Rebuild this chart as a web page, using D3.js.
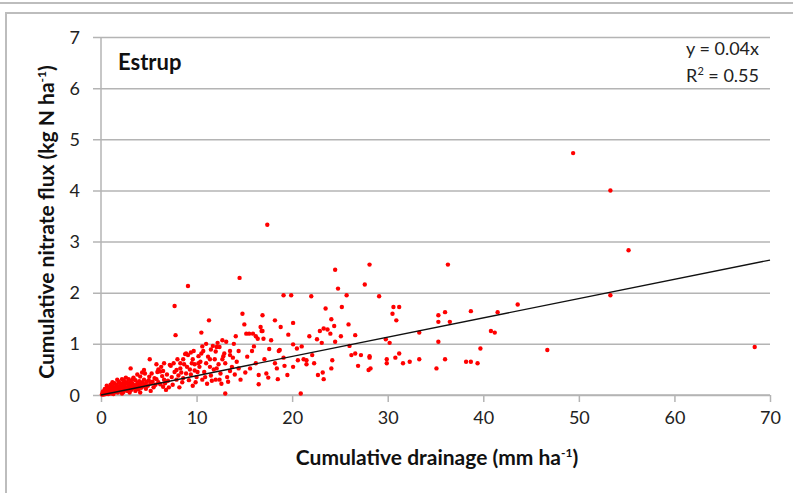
<!DOCTYPE html>
<html>
<head>
<meta charset="utf-8">
<script src="https://cdn.jsdelivr.net/npm/d3@7"></script>
<style>
  html,body{margin:0;padding:0;background:#fff;}
  svg{display:block;}
  text{font-family:Lato, "Open Sans", sans-serif;}
</style>
</head>
<body>
<svg id="chart" width="793" height="493"></svg>
<script>
// ---- data ----
const drainage = [
0.1,0.15,0.2,0.25,0.3,0.3,0.35,0.4,0.45,0.5,0.5,0.55,0.6,0.6,0.65,0.7,0.75,0.8,0.8,0.85,0.9,0.95,1.0,1.0,1.05,1.1,1.15,1.2,1.25,1.3,1.35,1.4,1.45,1.5,1.5,1.6,1.65,1.7,1.75,1.8,1.85,1.9,1.95,2.0,2.0,2.1,2.15,2.2,2.25,2.3,2.35,2.4,2.5,2.5,2.6,2.6,2.7,2.75,2.8,2.85,2.9,2.95,3.0,3.1,3.1,3.15,3.2,3.3,3.4,3.45,3.5,3.6,3.6,3.7,3.8,3.85,3.9,4.0,4.1,4.15,4.2,4.3,4.35,4.4,4.5,4.5,4.6,4.65,4.7,4.8,4.9,5.0,5.05,5.1,5.2,5.3,5.4,5.5,5.6,5.7,5.8,5.8,5.9,6.0,6.2,6.2,6.3,6.4,6.5,6.5,6.6,6.7,6.9,7.0,7.2,7.3,7.4,7.5,7.7,7.7,7.8,7.9,7.9,8.1,8.3,8.4,8.5,8.6,8.8,8.9,8.9,9.0,9.1,9.1,9.2,9.4,9.4,9.5,9.6,9.7,9.8,10.0,10.2,10.3,10.5,10.5,10.6,10.7,10.8,11.0,11.1,11.3,11.5,11.5,11.7,11.8,12.0,12.1,12.2,12.3,12.4,12.5,12.7,12.7,12.8,12.9,13.0,13.1,13.2,13.3,13.5,13.5,13.5,13.7,13.8,14.0,14.1,14.4,14.4,14.5,14.8,15.0,15.1,15.2,15.5,15.6,15.8,15.9,16.2,16.5,16.5,16.7,16.9,16.9,17.1,17.3,17.4,17.5,17.8,18.2,18.2,18.4,18.5,18.6,18.7,18.8,19.1,19.1,19.2,19.5,19.9,20.1,20.1,20.1,20.5,20.6,20.9,21.2,21.5,21.5,22.0,22.1,22.3,22.6,22.7,22.9,23.1,23.2,23.3,23.3,23.5,23.7,24.0,24.1,24.1,24.2,24.4,24.5,24.5,24.8,25.1,25.2,25.7,25.9,26.0,26.2,26.6,26.6,26.9,27.2,27.6,28.0,28.1,28.1,28.1,28.2,29.1,29.8,29.9,29.9,30.2,30.5,30.6,30.8,30.9,31.2,31.2,31.6,32.3,33.3,33.3,35.1,35.3,35.3,35.3,36.0,36.0,36.3,36.5,38.2,38.7,38.7,39.4,39.7,40.8,41.2,41.5,43.6,46.7,49.4,53.3,53.3,55.2,68.4,
7.6,8.0,8.2,8.7,9.3,9.6,9.9,10.1,10.4,10.9,11.2,11.4,11.6,11.9,12.1,12.6,10.6,11.0,12.0,13.9,14.2,14.6,15.3,16.0,16.4,17.6,19.6,21.0,21.8,6.8,5.2,4.1,3.3,2.4,1.7,1.2,0.6,3.8,6.0,6.6,7.1,2.2,3.0,1.3,0.2,0.4,0.9,
16.2,16.8,17.0,12.4,13.0,11.4,10.2,9.8,8.6,8.3
];
const nitrateFlux = [
0.01,0.03,0.02,0.05,0.01,0.04,0.08,0.03,0.06,0.02,0.1,0.05,0.08,0.03,0.12,0.05,0.02,0.09,0.15,0.06,0.04,0.11,0.07,0.2,0.03,0.13,0.09,0.05,0.17,0.1,0.07,0.23,0.12,0.06,0.15,0.09,0.2,0.12,0.05,0.16,0.26,0.1,0.07,0.23,0.14,0.18,0.09,0.31,0.12,0.23,0.06,0.16,0.2,0.1,0.34,0.14,0.25,0.08,0.23,0.17,0.31,0.12,0.2,0.52,0.27,0.1,0.16,0.22,0.34,0.13,0.19,0.29,0.08,0.15,0.23,0.18,0.11,0.27,0.36,0.2,0.14,0.44,0.25,0.17,0.49,0.3,0.42,0.21,0.12,0.26,0.18,0.29,0.36,0.7,0.23,0.42,0.26,0.15,0.33,0.2,0.31,0.6,0.45,0.25,0.21,0.46,0.55,0.37,0.16,0.47,0.3,0.23,0.4,0.28,0.59,0.57,0.35,0.2,1.74,0.45,1.17,0.49,0.3,0.38,0.52,0.44,0.25,0.33,0.8,0.81,0.42,0.55,2.13,0.78,0.29,0.83,0.4,0.62,0.18,0.86,0.48,0.35,0.76,0.55,1.22,0.81,0.3,0.86,0.45,0.62,0.22,1.46,0.89,0.38,0.96,0.5,0.3,0.94,1.02,0.6,0.94,0.42,1.07,0.7,0.76,0.81,0.03,1.04,0.35,0.26,0.86,0.78,0.47,0.55,0.73,0.4,1.15,0.86,0.52,2.29,1.59,1.38,0.44,1.2,1.2,0.52,0.86,1.2,0.62,0.39,0.21,1.33,1.56,1.25,0.7,0.42,3.33,0.34,1.07,1.46,0.62,0.52,0.31,0.86,0.88,1.33,1.95,0.73,0.57,0.39,1.95,1.41,0.99,0.55,0.91,0.68,0.03,0.7,0.68,0.6,1.93,0.78,0.62,1.09,0.39,1.25,1.02,0.44,1.3,0.31,1.69,1.28,1.2,1.48,0.52,0.68,1.35,2.45,1.04,2.08,1.15,1.72,1.95,1.38,0.96,0.78,1.17,0.81,0.57,0.78,2.16,0.49,2.55,0.76,0.73,0.52,1.93,1.09,0.7,0.62,1.02,1.59,1.72,0.73,1.46,1.72,0.81,0.62,0.65,1.22,0.7,0.52,1.56,1.43,1.04,1.62,0.7,2.55,1.43,0.65,0.65,1.64,0.62,0.91,1.25,1.22,1.62,1.77,0.88,4.73,4.0,1.95,2.83,0.94,
0.62,0.7,0.15,0.6,0.5,0.7,0.25,0.45,0.65,0.35,0.75,0.55,0.28,0.7,0.52,0.22,0.95,1.0,0.85,1.0,0.65,0.3,0.75,0.95,1.1,0.9,1.18,0.95,1.15,0.1,0.08,0.05,0.3,0.28,0.3,0.25,0.18,0.4,0.5,0.62,0.15,0.03,0.05,0.02,0.07,0.12,0.14,
1.15,1.25,1.1,0.3,0.62,0.7,0.62,0.6,0.7,0.62
];
const xTicks = [0,10,20,30,40,50,60,70];
const yTicks = [0,1,2,3,4,5,6,7];
const trendSlope = 0.0377;
const siteName = "Estrup";
const eqLine1 = "y = 0.04x";
const r2Value = "0.55";

// ---- layout ----
const svg = d3.select("#chart");
const W = 793, H = 493;
const plot = {left:101, right:770, top:37, bottom:395};

// outer frame lines
svg.append("line").attr("x1",0).attr("x2",W).attr("y1",3).attr("y2",3)
  .attr("stroke","#bdbdbd").attr("stroke-width",2);
svg.append("path").attr("d",`M6,${H} V13 H${W}`).attr("fill","none")
  .attr("stroke","#bdbdbd").attr("stroke-width",2);

const x = d3.scaleLinear().domain([0,70]).range([plot.left, plot.right]);
const y = d3.scaleLinear().domain([0,7]).range([plot.bottom, plot.top]);

const gridColor = "#b4b4b4";
// gridlines with left tick stubs
const yAxis = d3.axisLeft(y).tickValues(yTicks).tickSize(-(plot.right-plot.left)).tickPadding(21).tickFormat(d3.format("d"));
const gy = svg.append("g").attr("transform",`translate(${plot.left},0)`).call(yAxis);
gy.select(".domain").remove();
gy.selectAll(".tick line").attr("stroke",gridColor).attr("stroke-width",1.5).attr("x1",-8);
gy.selectAll(".tick text").attr("font-size",18).attr("fill","#222").attr("font-family","Lato, sans-serif").attr("dy","0.34em");

// y axis vertical line
svg.append("line").attr("x1",plot.left).attr("x2",plot.left).attr("y1",plot.top).attr("y2",plot.bottom)
  .attr("stroke",gridColor).attr("stroke-width",1.5);

// x axis
const xAxis = d3.axisBottom(x).tickValues(xTicks).tickSize(7).tickPadding(9).tickFormat(d3.format("d"));
const gx = svg.append("g").attr("transform",`translate(0,${plot.bottom})`).call(xAxis);
gx.select(".domain").attr("stroke",gridColor).attr("stroke-width",1.5).attr("d",`M${plot.left},0H${plot.right}`);
gx.selectAll(".tick line").attr("stroke",gridColor).attr("stroke-width",1.5);
gx.selectAll(".tick text").attr("font-size",18).attr("fill","#222").attr("font-family","Lato, sans-serif");

// points
const pts = drainage.map((d,i)=>({x:d, y:nitrateFlux[i]}));
svg.append("g").selectAll("circle").data(pts).join("circle")
  .attr("cx",d=>x(d.x)).attr("cy",d=>y(d.y)).attr("r",2.2).attr("fill","#ff0000");

// trendline
svg.append("line")
  .attr("x1",x(0)).attr("y1",y(0)).attr("x2",x(70)).attr("y2",y(70*trendSlope))
  .attr("stroke","#111").attr("stroke-width",1.3);

// site label
svg.append("text").attr("x",118).attr("y",70).attr("font-size",22).attr("font-weight","bold").attr("fill","#111").text(siteName);

// equation
svg.append("text").attr("x",759).attr("y",55).attr("text-anchor","end").attr("font-size",18).attr("fill","#222").text(eqLine1);
const r2 = svg.append("text").attr("x",759).attr("y",82).attr("text-anchor","end").attr("font-size",18).attr("fill","#222");
r2.append("tspan").text("R");
r2.append("tspan").attr("font-size",11).attr("dy",-7).text("2");
r2.append("tspan").attr("dy",7).text(" = " + r2Value);

// axis titles
const xt = svg.append("text").attr("x",437).attr("y",465).attr("text-anchor","middle")
  .attr("font-size",21).attr("font-weight","bold").attr("fill","#111");
xt.append("tspan").text("Cumulative drainage (mm ha");
xt.append("tspan").attr("font-size",12).attr("dy",-8).text("-1");
xt.append("tspan").attr("dy",8).text(")");

const yt = svg.append("text").attr("transform","translate(54,222) rotate(-90)").attr("text-anchor","middle")
  .attr("font-size",21).attr("font-weight","bold").attr("fill","#111");
yt.append("tspan").text("Cumulative nitrate flux (kg N ha");
yt.append("tspan").attr("font-size",12).attr("dy",-8).text("-1");
yt.append("tspan").attr("dy",8).text(")");
</script>
</body>
</html>
